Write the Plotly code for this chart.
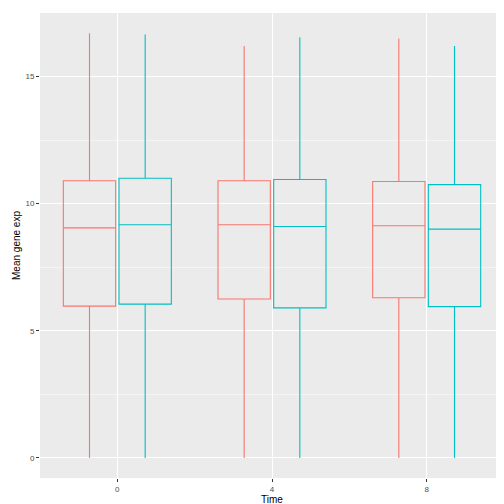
import plotly.graph_objects as go

times = ["0", "4", "8"]
# group 1 (red) and group 2 (cyan) box stats per time
red_q1 = [5.97, 6.25, 6.3]
red_med = [9.05, 9.17, 9.13]
red_q3 = [10.9, 10.9, 10.87]
red_lo = [0.0, 0.0, 0.0]
red_hi = [16.7, 16.2, 16.5]

cyan_q1 = [6.05, 5.9, 5.95]
cyan_med = [9.17, 9.1, 9.0]
cyan_q3 = [11.0, 10.95, 10.75]
cyan_lo = [0.0, 0.0, 0.0]
cyan_hi = [16.65, 16.55, 16.2]

fig = go.Figure()
fig.add_trace(go.Box(x=times, q1=red_q1, median=red_med, q3=red_q3,
                     lowerfence=red_lo, upperfence=red_hi, name='1',
                     line=dict(color='#F8766D', width=1.1),
                     fillcolor='rgba(0,0,0,0)', whiskerwidth=0))
fig.add_trace(go.Box(x=times, q1=cyan_q1, median=cyan_med, q3=cyan_q3,
                     lowerfence=cyan_lo, upperfence=cyan_hi, name='2',
                     line=dict(color='#00BFC4', width=1.1),
                     fillcolor='rgba(0,0,0,0)', whiskerwidth=0))

fig.update_layout(width=504, height=504, boxmode='group', boxgap=0.28, boxgroupgap=0.06,
                  showlegend=False, paper_bgcolor='white', plot_bgcolor='#EBEBEB',
                  margin=dict(l=32, r=8, t=5, b=34, autoexpand=False),
                  font=dict(family='Liberation Sans', size=8, color='#4D4D4D'))
fig.update_xaxes(title=dict(text='Time', font=dict(color='black', size=10), standoff=2),
                 automargin=False,
                 gridcolor='white', gridwidth=1.2, ticks='outside', ticklen=3,
                 tickcolor='#333333', zeroline=False)
fig.update_yaxes(title=dict(text='Mean gene exp', font=dict(color='black', size=10), standoff=2),
                 automargin=False,
                 range=[-0.79, 17.5], tickvals=[0, 5, 10, 15], gridcolor='white', gridwidth=1.2,
                 minor=dict(tickvals=[2.5, 7.5, 12.5, 17.5], gridcolor='#F5F5F5', gridwidth=0.6),
                 ticks='outside', ticklen=3, tickcolor='#333333', zeroline=False)

fig.write_html("out.html")
